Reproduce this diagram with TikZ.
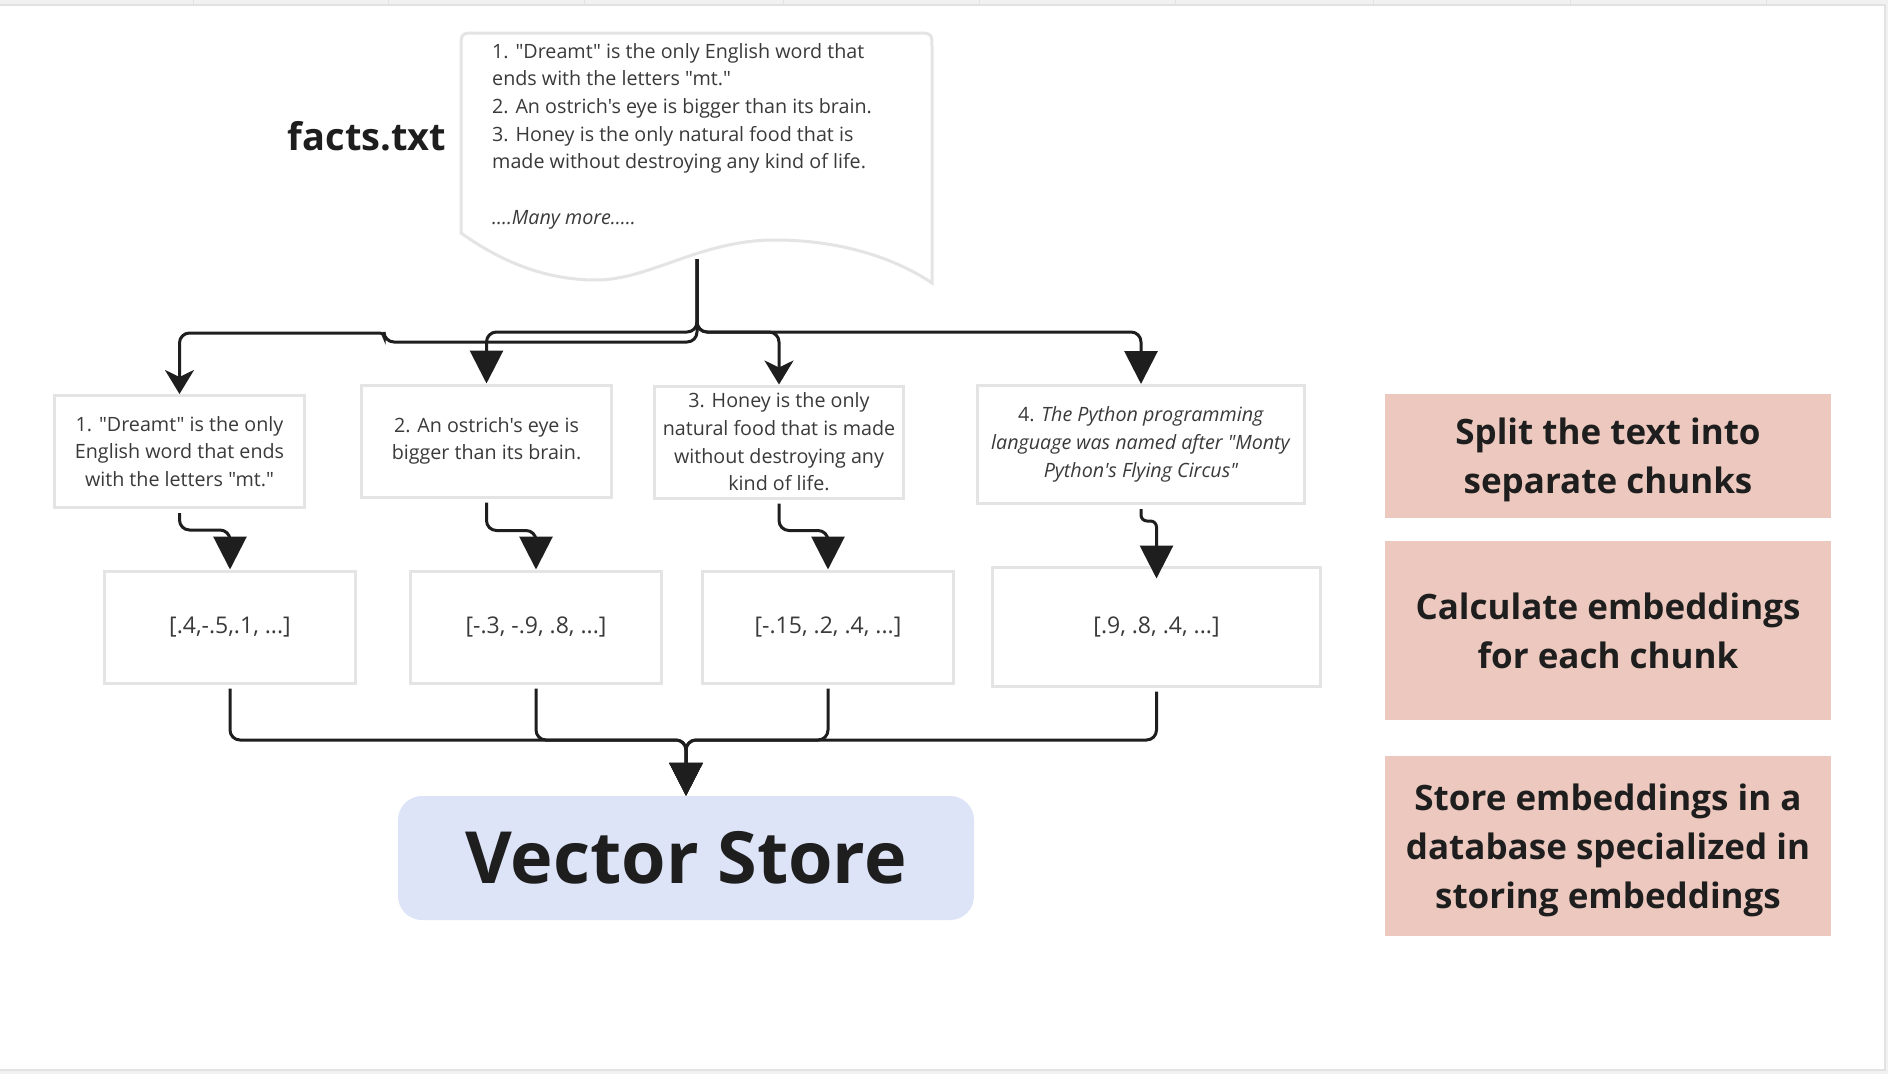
\documentclass[tikz,border=0pt]{standalone}
\usepackage{fontspec}
\setmainfont{Open Sans}[Ligatures=TeXOff]
\usetikzlibrary{arrows.meta,calc}

\definecolor{boxgray}{HTML}{E4E4E4}
\definecolor{txt}{HTML}{3A3A3A}
\definecolor{ink}{HTML}{1E1E1E}
\definecolor{pinkbox}{HTML}{ECC8BE}
\definecolor{bluebox}{HTML}{DDE4F8}
\definecolor{canvasgray}{HTML}{F1F1F1}
\definecolor{edgegray}{HTML}{E2E2E2}

\begin{document}
\begin{tikzpicture}[x=1pt,y=-1pt,
  chunkbox/.style={draw=boxgray, line width=3pt, fill=white, inner sep=0pt,
    align=center, text=txt, font=\fontsize{19.7}{27.7}\selectfont},
  embbox/.style={draw=boxgray, line width=3pt, fill=white, inner sep=0pt,
    align=center, text=txt, font=\fontsize{23}{28}\selectfont},
  notebox/.style={fill=pinkbox, inner sep=0pt, minimum width=446pt,
    align=center, text=ink, font=\fontsize{35}{49}\selectfont\bfseries},
  conn/.style={draw=ink, line width=3pt, rounded corners=10pt},
  tri/.style={-{Triangle[width=33pt,length=33pt]}},
  stl/.style={-{Stealth[width=29pt,length=24pt,inset=7pt]}}
]
\useasboundingbox (0,0) rectangle (1888,1074);
% canvas
\fill[canvasgray] (0,0) rectangle (1888,1074);
\fill[white] (0,5) rectangle (1885,1070);
\draw[edgegray, line width=1.5pt] (0,5) -- (1885,5) -- (1885,1070) -- (0,1070);
\foreach \gx in {193,388,584,783,979,1175,1373,1570,1766}
  \draw[edgegray, line width=1pt] (\gx,0) -- (\gx,5);

% title
\node[font=\fontsize{38}{44}\selectfont\bfseries, text=ink] (title) at (367,136) {facts.txt};

% document shape
\draw[draw=boxgray, line width=3pt, fill=white]
  (461,233) -- (461,49) .. controls (461,33) .. (477,33) -- (916,33)
  .. controls (932,33) .. (932,49) -- (932,283)
  .. controls (895,258) and (840,240) .. (775,240)
  .. controls (700,240) and (650,280) .. (596,280)
  .. controls (555,280) and (510,268) .. (461,233) -- cycle;
\node[anchor=north west, align=left, inner sep=0pt, text=txt,
      font=\fontsize{19.7}{27.7}\selectfont] (doctext) at (492,43)
  {1. "Dreamt" is the only English word that\\
   ends with the letters "mt."\\
   2. An ostrich's eye is bigger than its brain.\\
   3. Honey is the only natural food that is\\
   made without destroying any kind of life.\\
   ~\\
   \textit{....Many more.....}};
\coordinate (docout) at (697,259);

% chunks
\node[chunkbox, minimum width=250pt, minimum height=112pt] (c1) at (179.5,451.5)
  {1. "Dreamt" is the only\\English word that ends\\with the letters "mt."};
\node[chunkbox, minimum width=250pt, minimum height=112pt] (c2) at (486.5,441)
  {2. An ostrich's eye is\\bigger than its brain.};
\node[chunkbox, minimum width=249pt, minimum height=112pt] (c3) at (779,442)
  {3. Honey is the only\\natural food that is made\\without destroying any\\kind of life.};
\node[chunkbox, minimum width=327pt, minimum height=118pt] (c4) at (1141,444.5)
  {4. \textit{The Python programming}\\\textit{language was named after "Monty}\\\textit{Python's Flying Circus"}};

% embeddings
\node[embbox, minimum width=251pt, minimum height=112pt] (e1) at (230,627) {[.4,-.5,.1, ...]};
\node[embbox, minimum width=251pt, minimum height=112pt] (e2) at (536,627) {[-.3, -.9, .8, ...]};
\node[embbox, minimum width=251pt, minimum height=112pt] (e3) at (828,627) {[-.15, .2, .4, ...]};
\node[embbox, minimum width=328pt, minimum height=119pt] (e4) at (1156.5,626.5) {[.9, .8, .4, ...]};

% vector store
\node[fill=bluebox, rounded corners=24pt, minimum width=576pt, minimum height=124pt,
      inner sep=0pt, text=ink, font=\fontsize{72}{84}\selectfont\bfseries] (vs) at (686,858) {Vector Store};

% notes
\node[notebox, minimum height=124pt] (n1) at (1608,456)
  {\raisebox{-4pt}[\height][\depth]{\parbox{446pt}{\centering Split the text into\\separate chunks}}};
\node[notebox, minimum height=179pt] (n2) at (1608,630.5) {Calculate embeddings\\for each chunk};
\node[notebox, minimum height=180pt] (n3) at (1608,846)
  {\raisebox{-4pt}[\height][\depth]{\parbox{446pt}{\centering Store embeddings in a\\database specialized in\\storing embeddings}}};

% split connectors
\coordinate (busT) at (697,332);
\coordinate (jog) at (384,342);
\coordinate (jogup) at (384,333);
\draw[conn,tri] (docout) |- (c4.north |- busT) -- (c4.north);
\draw[conn,stl] (docout) |- (c3.north |- busT) -- (c3.north);
\draw[conn,tri] (docout) |- (c2.north |- busT) -- (c2.north);
\draw[conn,stl] (docout) |- (jog) [rounded corners=4pt] -- (jogup) [rounded corners=10pt] -| (c1.north);

% chunk -> embedding
\draw[conn,tri] ($(c1.south)+(0,4)$) -- ++(0,17) -| (e1.north);
\draw[conn,tri] ($(c2.south)+(0,4)$) -- ++(0,28) -| (e2.north);
\draw[conn,tri] ($(c3.south)+(0,4)$) -- ++(0,27) -| (e3.north);
\draw[conn,tri,rounded corners=6pt,shorten >=-13pt] ($(c4.south)+(0,4)$) -- ++(0,12) -| (e4.north);

% embedding -> vector store
\coordinate (merge) at (686,740);
\draw[conn,tri] ($(e1.south)+(0,4)$) |- (merge) -- (vs.north);
\draw[conn,tri] ($(e2.south)+(0,4)$) |- (merge) -- (vs.north);
\draw[conn,tri] ($(e3.south)+(0,4)$) |- (merge) -- (vs.north);
\draw[conn,tri] ($(e4.south)+(0,4)$) |- (merge) -- (vs.north);
\end{tikzpicture}
\end{document}
